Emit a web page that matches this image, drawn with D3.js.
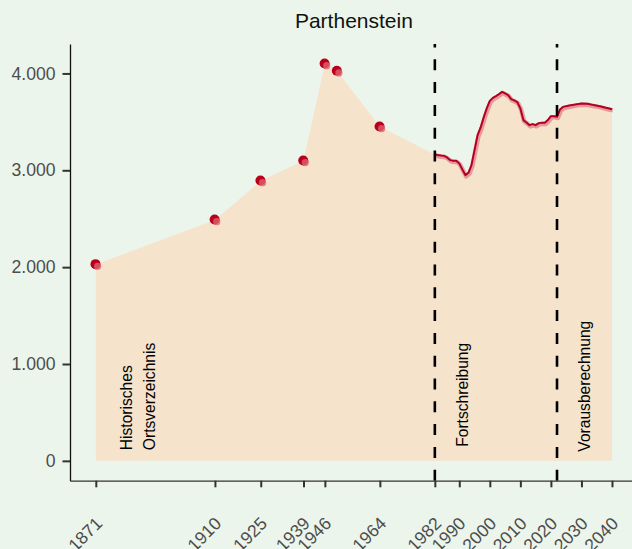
<!DOCTYPE html>
<html>
<head>
<meta charset="utf-8">
<title>Parthenstein</title>
<script src="https://cdn.jsdelivr.net/npm/d3@7"></script>
<style>
  body { margin: 0; background: #ecf5eb; }
  text { font-family: "Liberation Sans", Arial, sans-serif; }
</style>
</head>
<body>
<div id="chart"></div>
<script>
// historische Ortsverzeichnis-Werte (Punkte)
var histYears = [1871, 1910, 1925, 1939, 1946, 1950, 1964];
var histValues = [2028, 2488, 2891, 3098, 4099, 4024, 3449];

// Fortschreibung 1982-2022 und Vorausberechnung 2023-2040 (Linie)
var lineYears = [1982, 1983, 1984, 1985, 1986, 1987, 1988, 1989, 1990, 1991,
                 1992, 1993, 1994, 1995, 1996, 1997, 1998, 1999, 2000, 2001,
                 2002, 2003, 2004, 2005, 2006, 2007, 2008, 2009, 2010, 2011,
                 2012, 2013, 2014, 2015, 2016, 2017, 2018, 2019, 2020, 2021,
                 2022, 2023, 2024, 2026, 2028, 2030, 2032, 2034, 2036, 2038, 2040];
var lineValues = [3164, 3157, 3153, 3150, 3133, 3105, 3098, 3098, 3071, 3009,
                  2950, 2974, 3053, 3208, 3363, 3442, 3546, 3639, 3717, 3748,
                  3766, 3786, 3810, 3793, 3776, 3735, 3721, 3704, 3639, 3518,
                  3494, 3466, 3477, 3466, 3487, 3490, 3490, 3518, 3559, 3559,
                  3552, 3628, 3655, 3669, 3680, 3690, 3686, 3673, 3662, 3645, 3631];

var xTicks = [1871, 1910, 1925, 1939, 1946, 1964, 1982, 1990, 2000, 2010, 2020, 2030, 2040];
var yTicks = [0, 1000, 2000, 3000, 4000];
var breakYears = [1982, 2022];
var labels = [
  {year: 1883, value: 110, lines: ["Historisches", "Ortsverzeichnis"]},
  {year: 1992.7, value: 145, lines: ["Fortschreibung"]},
  {year: 2032.8, value: 95, lines: ["Vorausberechnung"]}
];

var width = 632, height = 549;
var margin = {top: 44, left: 70, bottom: 68.3};

var allData = histYears.map(function(y, i) { return {year: y, value: histValues[i]}; })
  .concat(lineYears.map(function(y, i) { return {year: y, value: lineValues[i]}; }));
var lineData = allData.slice(histYears.length);
var histData = allData.slice(0, histYears.length);

// ggplot-style 5% expansion
var xMin = d3.min(allData, d => d.year), xMax = d3.max(allData, d => d.year);
var xPad = (xMax - xMin) * 0.05;
var yMax = d3.max(allData, d => d.value), yPad = yMax * 0.05;
var panelRight = 637.8;

var x = d3.scaleLinear().domain([xMin - xPad, xMax + xPad]).range([margin.left, panelRight]);
var y = d3.scaleLinear().domain([-yPad, yMax + yPad]).range([height - margin.bottom, margin.top]);

var de = d3.formatLocale({decimal: ",", thousands: ".", grouping: [3], currency: ["", " €"]});
var fmt = de.format(",d");

var svg = d3.select("#chart").append("svg")
  .attr("width", width).attr("height", height);

svg.append("rect").attr("width", width).attr("height", height).attr("fill", "#ecf5eb");

// Fläche
var area = d3.area().x(d => x(d.year)).y0(y(0)).y1(d => y(d.value));
svg.append("path").datum(allData)
  .attr("d", area)
  .attr("fill", "#f5e3cc");

// Linie mit Schatten
var line = d3.line().x(d => x(d.year)).y(d => y(d.value));
svg.append("path").datum(lineData)
  .attr("d", line)
  .attr("transform", "translate(0.8,1.2)")
  .attr("fill", "none")
  .attr("stroke", "#d8506a")
  .attr("stroke-opacity", 0.5)
  .attr("stroke-width", 4.5)
  .attr("stroke-linejoin", "round");
svg.append("path").datum(lineData)
  .attr("d", line)
  .attr("fill", "none")
  .attr("stroke", "#b3001e")
  .attr("stroke-width", 2)
  .attr("stroke-linejoin", "round");

// Punkte
var pts = svg.append("g").selectAll("g").data(histData).enter().append("g")
  .attr("transform", d => "translate(" + x(d.year) + "," + y(d.value) + ")");
pts.append("circle").attr("cx", -0.3).attr("cy", -0.3).attr("r", 5).attr("fill", "#b8001e");
pts.append("circle").attr("cx", 1.8).attr("cy", 1.8).attr("r", 3.6)
  .attr("fill", "#e0606c").attr("fill-opacity", 0.8);

// gestrichelte Linien
svg.append("g").selectAll("line").data(breakYears).enter().append("line")
  .attr("x1", d => x(d)).attr("x2", d => x(d))
  .attr("y1", height - margin.bottom).attr("y2", margin.top)
  .attr("stroke", "#000")
  .attr("stroke-width", 2.6)
  .attr("stroke-dasharray", "11,11.8");

// Achsen
var yAxis = svg.append("g")
  .attr("transform", "translate(" + margin.left + ",0)")
  .call(d3.axisLeft(y).tickValues(yTicks).tickFormat(fmt).tickSize(7.5).tickSizeOuter(0).tickPadding(7));
yAxis.select(".domain").attr("stroke", "#111").attr("stroke-width", 1.3);
yAxis.selectAll(".tick line").attr("stroke", "#333").attr("stroke-width", 2);
yAxis.selectAll(".tick text").attr("fill", "#4d4d4d").style("font-size", "17.6px")
  .style("font-family", "'Liberation Sans', Arial, sans-serif");

var xAxis = svg.append("g")
  .attr("transform", "translate(0," + (height - margin.bottom) + ")")
  .call(d3.axisBottom(x).tickValues(xTicks).tickFormat(d3.format("d")).tickSize(6.6).tickSizeOuter(0));
xAxis.select(".domain").attr("stroke", "#333").attr("stroke-width", 1.3);
xAxis.selectAll(".tick line").attr("stroke", "#333").attr("stroke-width", 2);
xAxis.selectAll(".tick text")
  .attr("x", 0).attr("y", 0).attr("dy", 0)
  .attr("text-anchor", "end")
  .attr("transform", "translate(7,44) rotate(-45)")
  .attr("fill", "#4d4d4d")
  .style("font-size", "17.6px")
  .style("font-family", "'Liberation Sans', Arial, sans-serif");

// Beschriftungen
labels.forEach(function(l) {
  var t = svg.append("text")
    .attr("transform", "translate(" + x(l.year) + "," + y(l.value) + ") rotate(-90)")
    .attr("text-anchor", "start")
    .attr("fill", "#000")
    .style("font-size", "15.6px");
  l.lines.forEach(function(s, i) {
    t.append("tspan").attr("x", 0).attr("y", i * 22.7).text(s);
  });
});

// Titel
svg.append("text")
  .attr("x", (margin.left + panelRight) / 2)
  .attr("y", 28.3)
  .attr("text-anchor", "middle")
  .attr("fill", "#111")
  .style("font-size", "21px")
  .text("Parthenstein");
</script>
</body>
</html>
